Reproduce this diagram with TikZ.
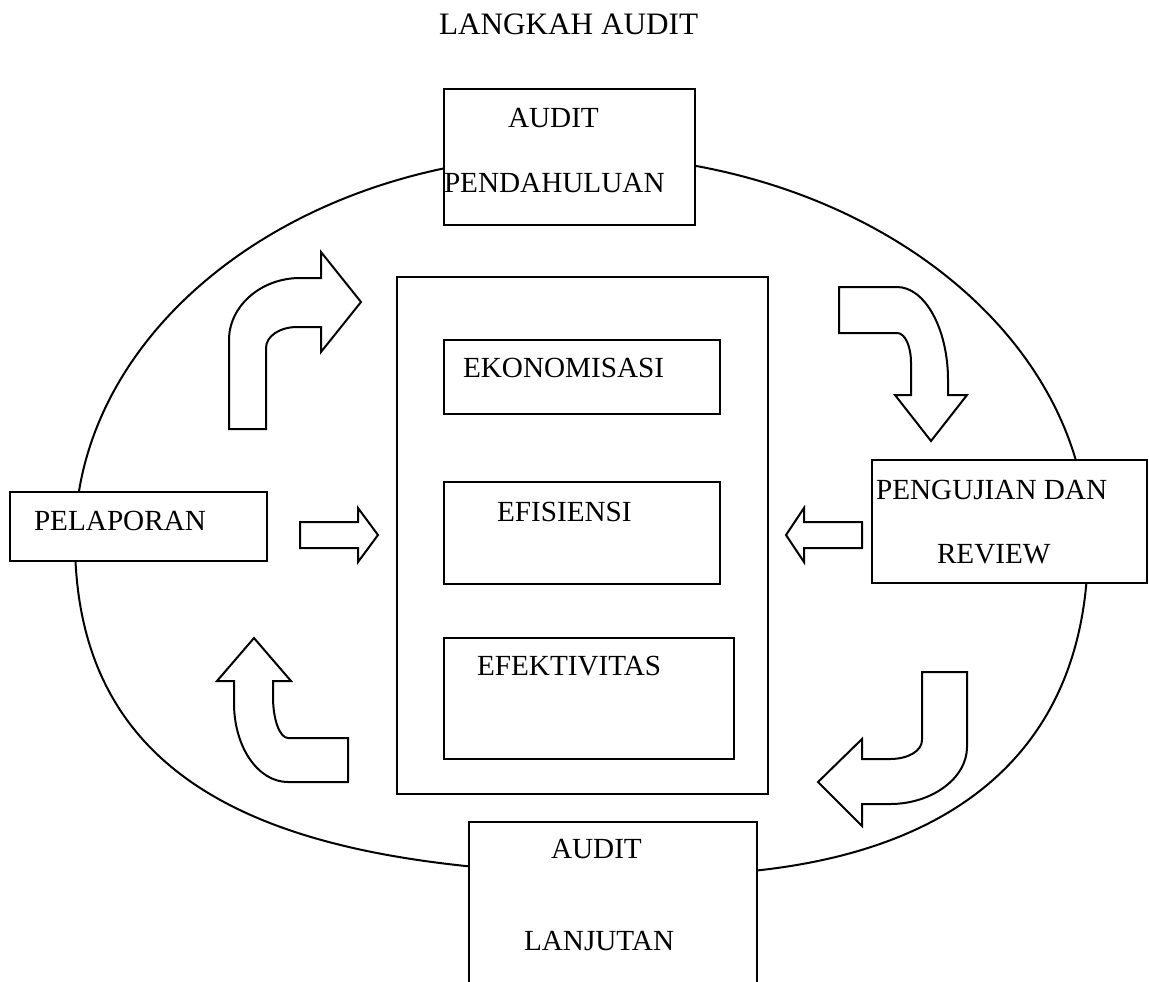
\documentclass[tikz,border=0pt]{standalone}
\usepackage{fontspec}
\setmainfont{Liberation Serif}
\begin{document}
\begin{tikzpicture}[x=0.5pt,y=-0.5pt,line width=1pt,
  box/.style={draw,fill=white,rectangle,inner sep=0pt},
  lbl/.style={anchor=base west,inner sep=0pt,font=\fontsize{14.6}{17}\selectfont},
  ttl/.style={anchor=base west,inner sep=0pt,font=\fontsize{15.6}{18}\selectfont},
  blockarrow/.style={draw,fill=white,line join=miter}]
\useasboundingbox (0,0) rectangle (1149,981);

% the audit cycle (an oval, fuller in its lower half)
\draw (575,155) .. controls (299,155) and (75,327.5) .. (75,540)
  .. controls (75,825) and (342,875) .. (668,875)
  .. controls (941,875) and (1088,759.5) .. (1088,545)
  .. controls (1088,329.7) and (858,155) .. (575,155) -- cycle;

% title
\node[ttl] (title) at (438,34) {LANGKAH AUDIT};

% stage boxes around the cycle
\node[box,minimum width=125.5pt,minimum height=68pt] (pend) at (569.5,157) {};
\node[box,minimum width=137.5pt,minimum height=61.5pt] (uji) at (1009.5,521.5) {};
\node[box,minimum width=144pt,minimum height=86.5pt] (lanjut) at (613,908.5) {};
\node[box,minimum width=128.5pt,minimum height=34.5pt] (lapor) at (138.5,526.5) {};

% central block with the three criteria
\node[box,minimum width=185.5pt,minimum height=258.5pt] (core) at (582.5,535.5) {};
\node[box,minimum width=138pt,minimum height=37pt] (eko) at (582,377) {};
\node[box,minimum width=138pt,minimum height=51pt] (efi) at (582,533) {};
\node[box,minimum width=145pt,minimum height=60.5pt] (efek) at (589,698.5) {};

% labels
\node[lbl] (tpend1) at (507,127) {AUDIT};
\node[lbl] (tpend2) at (443,192) {PENDAHULUAN};
\node[lbl] (tuji1) at (875,499) {PENGUJIAN DAN};
\node[lbl] (tuji2) at (936,563) {REVIEW};
\node[lbl] (tlanjut1) at (550,858) {AUDIT};
\node[lbl] (tlanjut2) at (523,950) {LANJUTAN};
\node[lbl] (tlapor) at (33,530) {PELAPORAN};
\node[lbl] (teko) at (462,377) {EKONOMISASI};
\node[lbl] (tefi) at (496,521) {EFISIENSI};
\node[lbl] (tefek) at (476,675) {EFEKTIVITAS};

% bent block arrows of the cycle
\draw[blockarrow] (229,429) -- (229,340)
  .. controls (229,306) and (261,278) .. (300,278) -- (321,278) -- (321,252)
  -- (361,302) -- (321,352) -- (321,327) -- (297,327)
  .. controls (280,327) and (266,336) .. (266,348) -- (266,429) -- cycle;
\draw[blockarrow] (839,287) -- (897,287)
  .. controls (925,287) and (948,329) .. (948,380) -- (948,395) -- (967,395)
  -- (931,441) -- (895,395) -- (911,395) -- (911,363)
  .. controls (911,346) and (905,333) .. (897,333) -- (839,333) -- cycle;
\draw[blockarrow] (922,672) -- (967,672) -- (967,747)
  .. controls (967,778) and (932,804) .. (890,804) -- (862,804) -- (862,826)
  -- (818,782) -- (862,739) -- (862,759) -- (890,759)
  .. controls (908,759) and (922,751) .. (922,740) -- cycle;
\draw[blockarrow] (348,782) -- (288,782)
  .. controls (258,782) and (234,747) .. (234,703) -- (234,681) -- (217,681)
  -- (254,638) -- (291,681) -- (273,681) -- (273,697)
  .. controls (273,720) and (280,738) .. (288,738) -- (348,738) -- cycle;

% straight block arrows into the central block
\draw[blockarrow] (300,522) -- (358,522) -- (358,508) -- (378,535)
  -- (358,562) -- (358,548) -- (300,548) -- cycle;
\draw[blockarrow] (862,522) -- (804,522) -- (804,508) -- (786,535)
  -- (804,562) -- (804,548) -- (862,548) -- cycle;
\end{tikzpicture}
\end{document}
